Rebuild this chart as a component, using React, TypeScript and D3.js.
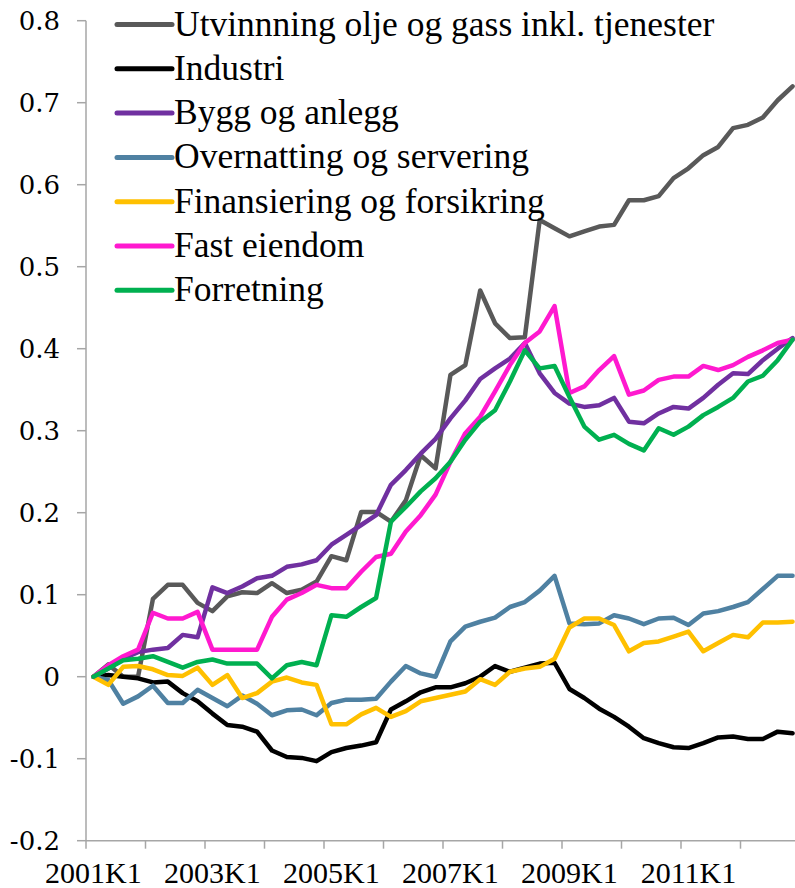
import React from "react";
import * as d3 from "d3";

const years = [2001, 2002, 2003, 2004, 2005, 2006, 2007, 2008, 2009, 2010, 2011, 2012];
const quarters = ["K1", "K2", "K3", "K4"];
const categories: string[] = years.flatMap((y) => quarters.map((q) => `${y}${q}`));

const xTickLabels = ["2001K1", "2003K1", "2005K1", "2007K1", "2009K1", "2011K1"];
const yTicks = [-0.2, -0.1, 0, 0.1, 0.2, 0.3, 0.4, 0.5, 0.6, 0.7, 0.8];
const yTickLabels = ["-0.2", "-0.1", "0", "0.1", "0.2", "0.3", "0.4", "0.5", "0.6", "0.7", "0.8"];

const utvinning = [0, 0.015, 0.0, 0.0, 0.095, 0.112, 0.112, 0.09, 0.08, 0.098, 0.103, 0.102, 0.114, 0.102, 0.106, 0.116, 0.147, 0.142, 0.201, 0.201, 0.189, 0.215, 0.27, 0.254, 0.368, 0.38, 0.471, 0.431, 0.413, 0.414, 0.557, 0.547, 0.537, 0.543, 0.549, 0.551, 0.581, 0.581, 0.586, 0.608, 0.62, 0.636, 0.646, 0.669, 0.673, 0.682, 0.703, 0.72];
const industri = [0, 0.002, 0, -0.002, -0.007, -0.006, -0.02, -0.03, -0.045, -0.059, -0.061, -0.067, -0.09, -0.098, -0.099, -0.103, -0.092, -0.087, -0.084, -0.08, -0.04, -0.03, -0.019, -0.013, -0.013, -0.008, 0.0, 0.013, 0.006, 0.011, 0.016, 0.017, -0.015, -0.026, -0.039, -0.049, -0.061, -0.075, -0.081, -0.086, -0.087, -0.081, -0.074, -0.073, -0.076, -0.076, -0.067, -0.069];
const bygg = [0, 0.01, 0.022, 0.03, 0.033, 0.035, 0.051, 0.048, 0.109, 0.102, 0.11, 0.12, 0.123, 0.134, 0.137, 0.142, 0.161, 0.173, 0.185, 0.197, 0.234, 0.252, 0.272, 0.29, 0.315, 0.337, 0.363, 0.376, 0.388, 0.407, 0.37, 0.346, 0.333, 0.329, 0.331, 0.34, 0.311, 0.309, 0.321, 0.329, 0.327, 0.34, 0.356, 0.37, 0.369, 0.386, 0.4, 0.413];
const overnatting = [0, -0.004, -0.033, -0.024, -0.011, -0.032, -0.032, -0.016, -0.026, -0.036, -0.023, -0.033, -0.047, -0.041, -0.04, -0.047, -0.032, -0.028, -0.028, -0.027, -0.006, 0.013, 0.004, 0.0, 0.043, 0.061, 0.067, 0.072, 0.085, 0.091, 0.105, 0.123, 0.065, 0.064, 0.065, 0.075, 0.071, 0.064, 0.071, 0.072, 0.063, 0.077, 0.08, 0.085, 0.091, 0.107, 0.123, 0.123];
const finansiering = [0, -0.01, 0.012, 0.013, 0.009, 0.002, 0.001, 0.011, -0.01, 0.002, -0.026, -0.02, -0.006, -0.001, -0.007, -0.01, -0.058, -0.058, -0.046, -0.038, -0.049, -0.042, -0.03, -0.026, -0.022, -0.018, -0.003, -0.01, 0.006, 0.01, 0.012, 0.022, 0.06, 0.071, 0.071, 0.063, 0.031, 0.041, 0.043, 0.049, 0.055, 0.031, 0.041, 0.051, 0.048, 0.066, 0.066, 0.067];
const fastEiendom = [0, 0.014, 0.025, 0.033, 0.078, 0.071, 0.071, 0.079, 0.033, 0.033, 0.033, 0.033, 0.073, 0.094, 0.102, 0.112, 0.108, 0.108, 0.128, 0.146, 0.15, 0.177, 0.197, 0.222, 0.262, 0.297, 0.317, 0.348, 0.38, 0.407, 0.421, 0.452, 0.346, 0.354, 0.374, 0.391, 0.344, 0.349, 0.362, 0.366, 0.366, 0.379, 0.374, 0.38, 0.39, 0.398, 0.407, 0.411];
const forretning = [0, 0.01, 0.02, 0.022, 0.025, 0.018, 0.011, 0.018, 0.021, 0.016, 0.016, 0.016, -0.002, 0.014, 0.018, 0.014, 0.075, 0.073, 0.085, 0.096, 0.189, 0.207, 0.226, 0.242, 0.262, 0.289, 0.311, 0.325, 0.36, 0.398, 0.376, 0.379, 0.341, 0.305, 0.289, 0.295, 0.284, 0.276, 0.303, 0.295, 0.305, 0.319, 0.329, 0.34, 0.36, 0.367, 0.386, 0.411];

const seriesNames = [
  "Utvinnning olje og gass inkl. tjenester",
  "Industri",
  "Bygg og anlegg",
  "Overnatting og servering",
  "Finansiering og forsikring",
  "Fast eiendom",
  "Forretning",
];
const seriesValues = [utvinning, industri, bygg, overnatting, finansiering, fastEiendom, forretning];
const seriesColors = ["#595959", "#000000", "#7030A0", "#4F81A2", "#FFC000", "#FF19CF", "#00B050"];

const W = 795;
const H = 888;
const AX_LEFT = 86;
const AX_RIGHT = 800;
const Y_TOP = 20.7;
const Y_BOTTOM = 840.7;
const AXIS_COLOR = "#A6A6A6";
const SERIF = "'Liberation Serif'";
const WIDE_SERIF = "'DejaVu Serif'";

export default function App() {
  const x = d3.scaleBand<string>().domain(categories).range([AX_LEFT, AX_RIGHT]).padding(0);
  const bw = x.bandwidth();
  const cx = (c: string) => (x(c) as number) + bw / 2;
  const y = d3.scaleLinear().domain([-0.2, 0.8]).range([Y_BOTTOM, Y_TOP]);

  const line = d3
    .line<number>()
    .x((_, i) => cx(categories[i]))
    .y((v) => y(v));

  const tickCats = categories.filter((_, i) => i % 4 === 0);

  return (
    <svg width={W} height={H} style={{ position: "absolute", left: 0, top: 0, background: "#fff" }}>
      <line x1={AX_LEFT} x2={AX_LEFT} y1={Y_TOP} y2={Y_BOTTOM} stroke={AXIS_COLOR} strokeWidth={1.5} />
      {yTicks.map((t, i) => (
        <g key={t}>
          <line x1={AX_LEFT - 9} x2={AX_LEFT} y1={y(t)} y2={y(t)} stroke={AXIS_COLOR} strokeWidth={1.5} />
          <text x={60} y={y(t) + 9.5} textAnchor="end" fontFamily={WIDE_SERIF} fontSize={26} fill="#000">
            {yTickLabels[i]}
          </text>
        </g>
      ))}
      <line x1={AX_LEFT} x2={AX_RIGHT} y1={Y_BOTTOM} y2={Y_BOTTOM} stroke={AXIS_COLOR} strokeWidth={1.5} />
      {tickCats.map((c) => (
        <line key={c} x1={x(c) as number} x2={x(c) as number} y1={Y_BOTTOM} y2={Y_BOTTOM + 8} stroke={AXIS_COLOR} strokeWidth={1.5} />
      ))}
      {xTickLabels.map((c) => (
        <text key={c} x={cx(c)} y={883} textAnchor="middle" fontFamily={SERIF} fontSize={30} fill="#000">
          {c}
        </text>
      ))}
      {seriesValues.map((vals, si) => (
        <path
          key={seriesNames[si]}
          d={line(vals) || ""}
          fill="none"
          stroke={seriesColors[si]}
          strokeWidth={4.5}
          strokeLinejoin="round"
          strokeLinecap="round"
        />
      ))}
      {seriesNames.map((name, i) => {
        const ly = 24.5 + i * 44.3;
        return (
          <g key={name}>
            <line x1={117} x2={172} y1={ly} y2={ly} stroke={seriesColors[i]} strokeWidth={5} strokeLinecap="round" />
            <text x={174} y={ly + 11} fontFamily={SERIF} fontSize={35.5} fill="#000">
              {name}
            </text>
          </g>
        );
      })}
    </svg>
  );
}
